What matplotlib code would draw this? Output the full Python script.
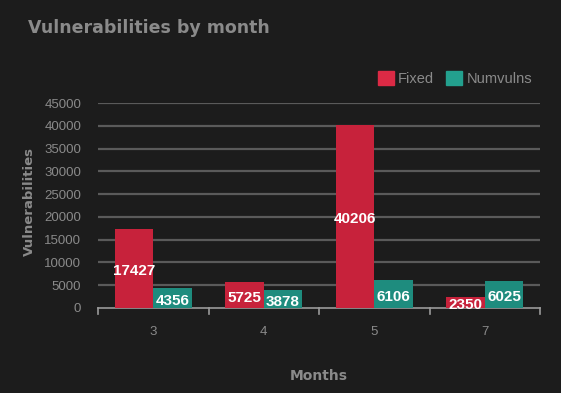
import matplotlib
matplotlib.use("Agg")
import matplotlib.pyplot as plt
import numpy as np

months = ["3", "4", "5", "7"]
fixed = [17427, 5725, 40206, 2350]
numvulns = [4356, 3878, 6106, 6025]
yticks = [0, 5000, 10000, 15000, 20000, 25000, 30000, 35000, 40000, 45000]

BG = "#1c1c1c"
TXT = "#8a8a8a"
GRID = "#5a5a5a"
RED = "#c7223b"
TEAL = "#1e8c7e"
SANS = "Liberation Sans"

fig = plt.figure(figsize=(5.61, 3.93), dpi=100, facecolor=BG)
ax = fig.add_axes([98/561, 1-308/393, (540-98)/561, (308-103)/393], facecolor=BG)

x = np.arange(len(months))
w = 0.35
b1 = ax.bar(x - w/2, fixed, w, color=RED, label="Fixed", zorder=3)
b2 = ax.bar(x + w/2, numvulns, w, color=TEAL, label="Numvulns", zorder=3)

for bars, vals in ((b1, fixed), (b2, numvulns)):
    for r, v in zip(bars, vals):
        ax.annotate(str(v), (r.get_x() + r.get_width()/2, v/2), xytext=(0, -2),
                    textcoords="offset points", ha="center", va="center",
                    color="white", fontsize=11, fontweight="bold", family=SANS, zorder=5)

ax.set_xlim(-0.5, len(months) - 0.5)
ax.set_ylim(0, 45000)
ax.set_yticks(yticks)
ax.set_yticklabels([str(t) for t in yticks], color=TXT, fontsize=9.5, family=SANS)
ax.set_xticks(x)
ax.set_xticklabels(months, color=TXT, fontsize=9.5, family=SANS)
ax.tick_params(axis="x", length=0, pad=13)
ax.tick_params(axis="y", length=0, pad=12)
for t in yticks[1:]:
    ax.axhline(t, color=GRID, lw=1.6, zorder=1)
for b in np.arange(-0.5, len(months), 1.0):
    ax.plot([b, b], [0, -1300], color="#9a9a9a", lw=1.2, clip_on=False, zorder=4)
for s in ["top", "right", "left"]:
    ax.spines[s].set_visible(False)
ax.spines["bottom"].set_color("#9a9a9a")
ax.spines["bottom"].set_linewidth(1.2)

ax.set_xlabel("Months", color=TXT, fontsize=10, fontweight="bold", labelpad=22)
ax.set_ylabel("Vulnerabilities", color=TXT, fontsize=9.5, fontweight="bold")
ax.yaxis.set_label_coords(-0.14, 0.52)

fig.text(28/561, 1-28/393, "Vulnerabilities by month", color=TXT, fontsize=12.5,
         fontweight="bold", ha="left", va="center")

leg = ax.legend(loc="lower right", bbox_to_anchor=(0.995, 1.055), ncol=2, frameon=False,
                prop={"family": SANS, "size": 10.5}, labelcolor=TXT,
                handlelength=1.1, handleheight=1.1,
                handletextpad=0.3, columnspacing=0.8, borderaxespad=0)
leg.legend_handles[0].set_color("#dc2a45")
leg.legend_handles[1].set_color("#23a08e")

fig.savefig("out.png", dpi=100, facecolor=BG)
